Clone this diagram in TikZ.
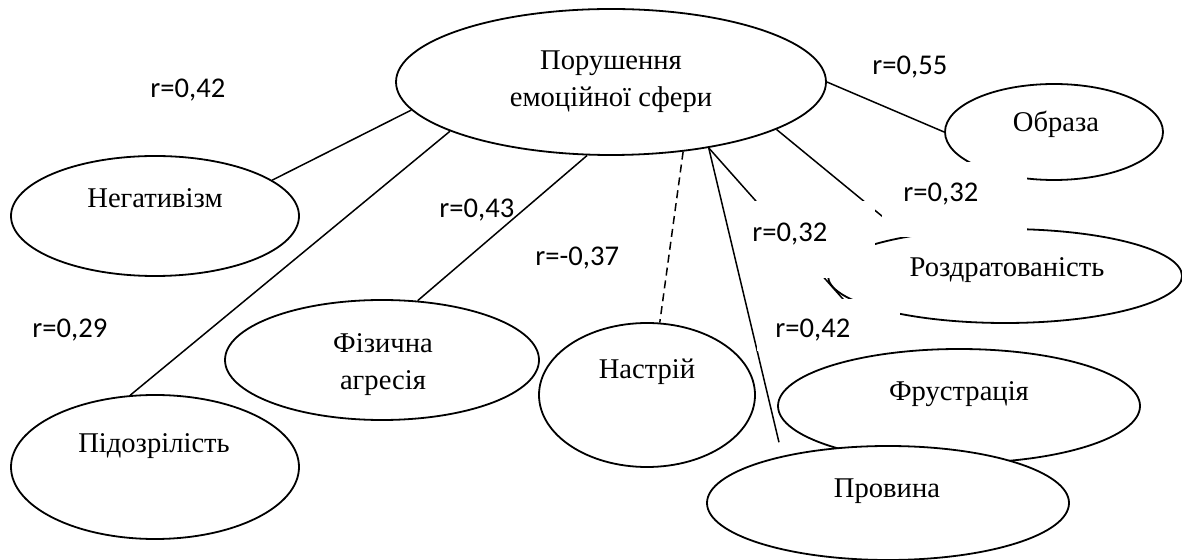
\documentclass[tikz,border=0pt]{standalone}
\usepackage{fontspec}
\setmainfont{Liberation Serif}
\newfontfamily\coeffont{Carlito}
\usetikzlibrary{shapes.geometric}

\begin{document}
\begin{tikzpicture}[
  x=0.5pt, y=-0.5pt,
  oval/.style={ellipse, draw=black, line width=0.9pt, fill=white, inner sep=0pt},
  word/.style={font=\fontsize{14.3}{18.5}\selectfont, align=center, anchor=base, inner sep=0pt},
  coef/.style={font=\coeffont\fontsize{14.3}{17}\selectfont, anchor=base west, inner sep=0pt},
  link/.style={line width=0.75pt}
]
\useasboundingbox (0,0) rectangle (1182,560);

\node[oval, minimum width=215pt, minimum height=73pt] (core) at (611,82) {};
\node[oval, minimum width=144pt, minimum height=60pt] (neg) at (155,216) {};
\node[oval, minimum width=144pt, minimum height=72pt] (pid) at (155,467) {};
\node[oval, minimum width=157pt, minimum height=60pt] (fiz) at (382,360) {};
\node[oval, minimum width=108pt, minimum height=72pt] (nas) at (647,395) {};
\node[oval, minimum width=109pt, minimum height=48pt] (obr) at (1054,132) {};
\node[oval, minimum width=177pt, minimum height=47pt] (rozd) at (1005,276) {};
\node[oval, minimum width=181pt, minimum height=57pt] (fru) at (959,406) {};
\node[oval, minimum width=181pt, minimum height=57pt] (prov) at (888,503) {};

\draw[link] (core.188) -- (neg.17);
\draw[link] (core.197) -- (pid.109);
\draw[link] (core.252) -- (fiz.59);
\draw[link, dash pattern=on 4pt off 2.5pt] (core.-44) -- (nas.80);
\draw[link, shorten >=7pt] (core.-34) -- (prov.156);
\draw[link, shorten >=4pt] (core.-34) -- (fru.142);
\draw[link] (core.-16) -- (rozd.158);
\draw[link] (core.0) -- (obr.180);

% white frames of the coefficient boxes
\fill[white] (882,162) rectangle (1027,237);
\fill[white] (742,201) rectangle (875,278);
\fill[white] (757,299) rectangle (900,351);

\node[word] (core-t) at (611,107) {Порушення\\емоційної сфери};
\node[word] (neg-t) at (155,208) {Негативізм};
\node[word] (pid-t) at (154,453) {Підозрілість};
\node[word] (fiz-t) at (383,390) {Фізична\\агресія};
\node[word] (nas-t) at (647,379) {Настрій};
\node[word] (obr-t) at (1056,132) {Образа};
\node[word] (rozd-t) at (1007,277) {Роздратованість};
\node[word] (fru-t) at (959,401) {Фрустрація};
\node[word] (prov-t) at (887,497) {Провина};

\node[coef] (r-neg) at (150,98) {r=0,42};
\node[coef] (r-obr) at (872,75) {r=0,55};
\node[coef] (r-fiz) at (439,218) {r=0,43};
\node[coef] (r-nas) at (535,266) {r=-0,37};
\node[coef] (r-pid) at (32,338) {r=0,29};
\node[coef] (r-rozd) at (903,202) {r=0,32};
\node[coef] (r-fru) at (752,242) {r=0,32};
\node[coef] (r-prov) at (775,338) {r=0,42};
\end{tikzpicture}
\end{document}
